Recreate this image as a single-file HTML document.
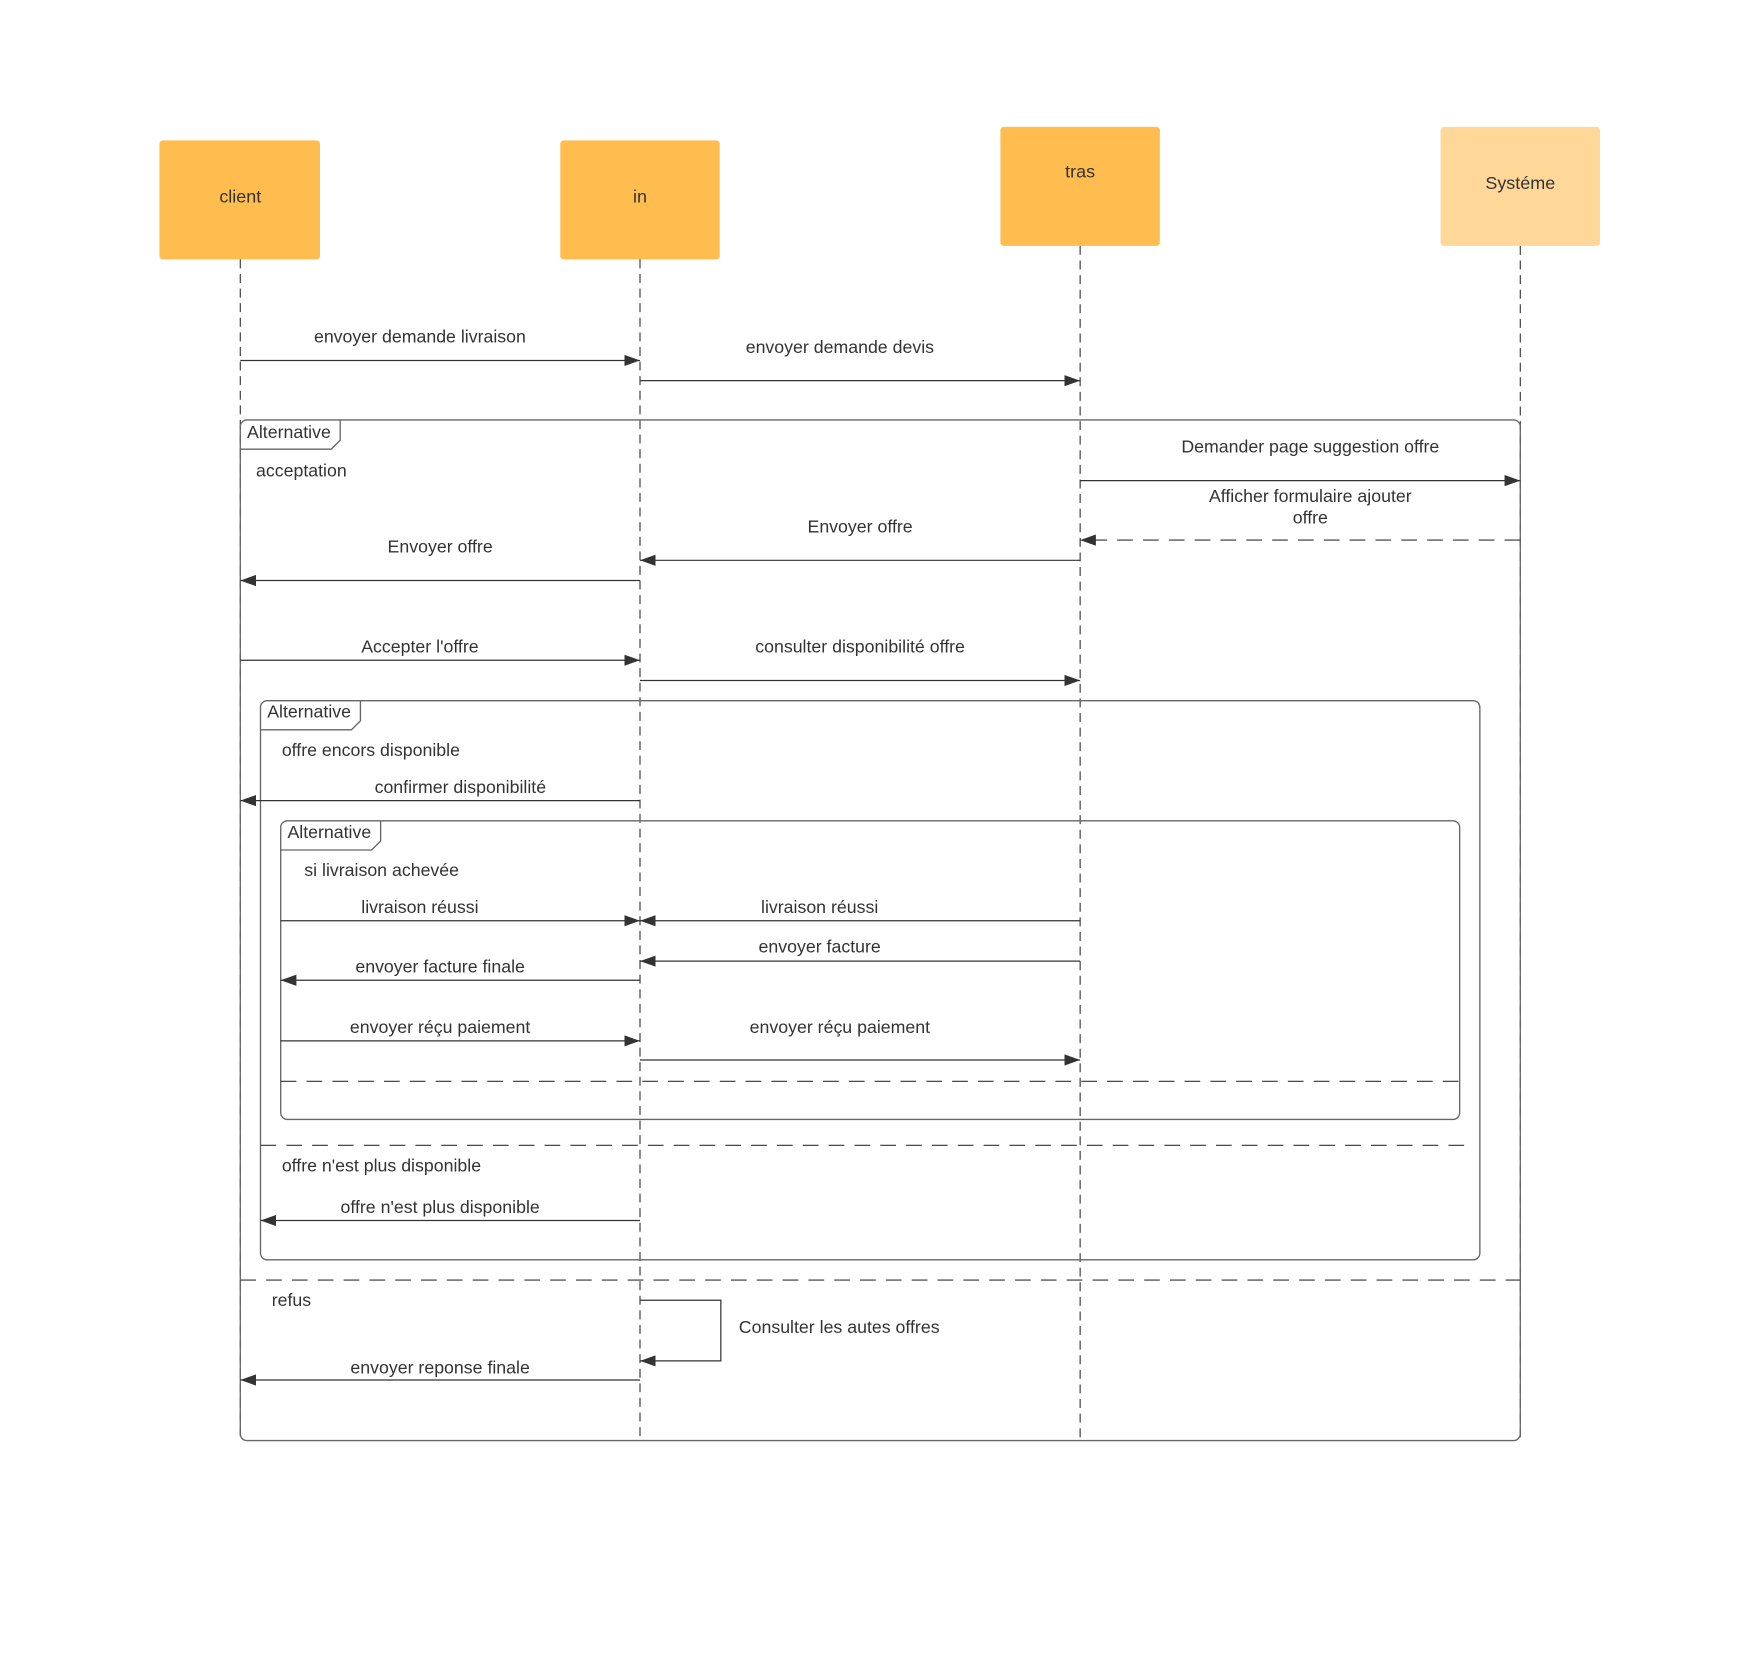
<!DOCTYPE html>
<html><head><meta charset="utf-8"><style>html,body{margin:0;padding:0;background:#fff}svg{display:block}</style></head>
<body>
<svg width="1760" height="1659" viewBox="0 0 1567.5 1477.5" xmlns="http://www.w3.org/2000/svg" font-family="Liberation Sans, Arial, sans-serif" font-size="15.8" fill="#333">
<defs>
<marker id="a" viewBox="0 0 14 10" refX="14" refY="5" markerWidth="14" markerHeight="10" markerUnits="userSpaceOnUse" orient="auto"><path d="M0,0 L14,5 L0,10 z" fill="#333"/></marker>
</defs>
<rect x="142" y="125" width="143" height="106" rx="3" fill="#FFBC4F"/>
<rect x="499" y="125" width="142" height="106" rx="3" fill="#FFBC4F"/>
<rect x="891" y="113" width="142" height="106" rx="3" fill="#FFBC4F"/>
<rect x="1283" y="113" width="142" height="106" rx="3" fill="#FFD799"/>
<g text-anchor="middle" dominant-baseline="middle" font-size="16">
<text x="214" y="176">client</text><text x="570" y="176">in</text><text x="962" y="154">tras</text><text x="1354" y="164">Systéme</text>
</g>
<g stroke="#333" stroke-width="1" stroke-dasharray="8,5" fill="none">
<line x1="214" y1="231" x2="214" y2="1283"/><line x1="570" y1="231" x2="570" y2="1283"/>
<line x1="962" y1="219" x2="962" y2="1283"/><line x1="1354" y1="219" x2="1354" y2="1283"/>
</g>
<g stroke="#666" stroke-width="1.2" fill="none">
<rect x="214" y="374" width="1140" height="909" rx="6"/>
<path d="M214,400 H295 L303,392 V374"/>
<rect x="232" y="624" width="1086" height="498" rx="6"/>
<path d="M232,650 H313 L321,642 V624"/>
<rect x="250" y="731" width="1050" height="266" rx="6"/>
<path d="M250,757 H331 L339,749 V731"/>
</g>
<g stroke="#333" stroke-width="1" stroke-dasharray="14,9" fill="none">
<line x1="250" y1="963" x2="1300" y2="963"/>
<line x1="232" y1="1020" x2="1312" y2="1020"/>
<line x1="214" y1="1140" x2="1354" y2="1140"/>
<line x1="1354" y1="481" x2="962" y2="481" marker-end="url(#a)"/>
</g>
<g stroke="#333" stroke-width="1.1" fill="none" marker-end="url(#a)">
<line x1="214" y1="321" x2="570" y2="321"/>
<line x1="570" y1="339" x2="962" y2="339"/>
<line x1="962" y1="428" x2="1354" y2="428"/>
<line x1="962" y1="499" x2="570" y2="499"/>
<line x1="570" y1="517" x2="214" y2="517"/>
<line x1="214" y1="588" x2="570" y2="588"/>
<line x1="570" y1="606" x2="962" y2="606"/>
<line x1="570" y1="713" x2="214" y2="713"/>
<line x1="250" y1="820" x2="570" y2="820"/>
<line x1="962" y1="820" x2="570" y2="820"/>
<line x1="962" y1="856" x2="570" y2="856"/>
<line x1="570" y1="873" x2="250" y2="873"/>
<line x1="250" y1="927" x2="570" y2="927"/>
<line x1="570" y1="944" x2="962" y2="944"/>
<line x1="570" y1="1087" x2="232" y2="1087"/>
<path d="M570,1158 H642 V1212 H570"/>
<line x1="570" y1="1229" x2="214" y2="1229"/>
</g>
<g text-anchor="middle" dominant-baseline="middle">
<text x="374" y="301">envoyer demande livraison</text>
<text x="748" y="310">envoyer demande devis</text>
<text x="1167" y="399">Demander page suggestion offre</text>
<text x="1167" y="443">Afficher formulaire ajouter</text>
<text x="1167" y="462">offre</text>
<text x="766" y="470">Envoyer offre</text>
<text x="392" y="488">Envoyer offre</text>
<text x="374" y="577">Accepter l'offre</text>
<text x="766" y="577">consulter disponibilité offre</text>
<text x="410" y="702">confirmer disponibilité</text>
<text x="374" y="809">livraison réussi</text>
<text x="730" y="809">livraison réussi</text>
<text x="730" y="844">envoyer facture</text>
<text x="392" y="862">envoyer facture finale</text>
<text x="392" y="916">envoyer réçu paiement</text>
<text x="748" y="916">envoyer réçu paiement</text>
<text x="392" y="1076">offre n'est plus disponible</text>
<text x="392" y="1219">envoyer reponse finale</text>
</g>
<g dominant-baseline="middle">
<text x="220" y="386">Alternative</text>
<text x="238" y="635">Alternative</text>
<text x="256" y="742">Alternative</text>
<text x="228" y="420">acceptation</text>
<text x="251" y="669">offre encors disponible</text>
<text x="271" y="776">si livraison achevée</text>
<text x="251" y="1039">offre n'est plus disponible</text>
<text x="242" y="1159">refus</text>
<text x="658" y="1183">Consulter les autes offres</text>
</g>
</svg>
</body></html>
